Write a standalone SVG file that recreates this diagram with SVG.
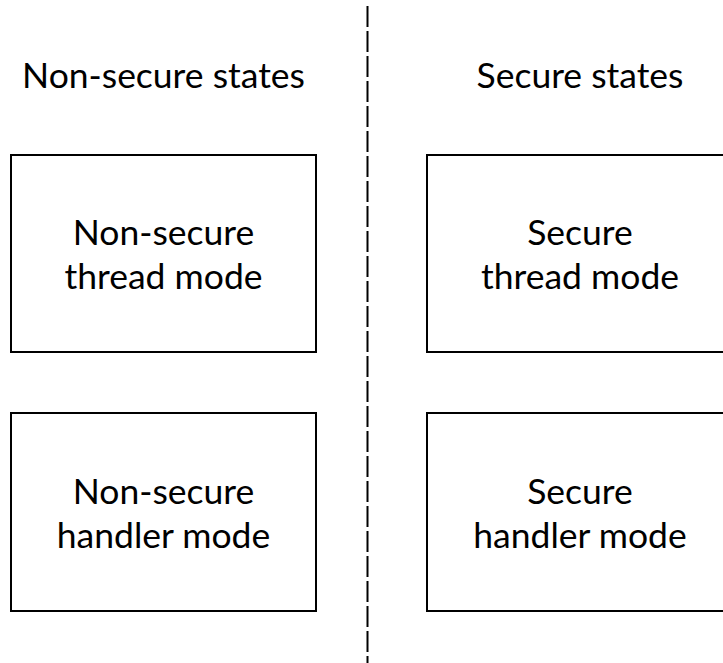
<svg xmlns="http://www.w3.org/2000/svg" width="723" height="663" viewBox="0 0 723 663">
<style>
.box{fill:#fff;stroke:#000;stroke-width:2}
.t{font-family:Lato,"Liberation Sans",sans-serif;font-size:35.5px;fill:#000;text-anchor:middle}
.div{stroke:#000;stroke-width:2;stroke-dasharray:21 4;fill:none}
</style>
<rect width="723" height="663" fill="#fff"/>
<g id="divider"><line class="div" x1="367.5" y1="6" x2="367.5" y2="663"/></g>
<g id="hdr-ns"><text class="t" x="163.5" y="88">Non-secure states</text></g>
<g id="hdr-s"><text class="t" x="580" y="88">Secure states</text></g>
<g id="ns-thread"><rect class="box" x="11" y="155" width="305" height="197"/><text class="t" x="163.5" y="245">Non-secure</text><text class="t" x="163.5" y="289">thread mode</text></g>
<g id="s-thread"><rect class="box" x="427" y="155" width="305" height="197"/><text class="t" x="580" y="245">Secure</text><text class="t" x="580" y="289">thread mode</text></g>
<g id="ns-handler"><rect class="box" x="11" y="413" width="305" height="198"/><text class="t" x="163.5" y="504">Non-secure</text><text class="t" x="163.5" y="548">handler mode</text></g>
<g id="s-handler"><rect class="box" x="427" y="413" width="305" height="198"/><text class="t" x="580" y="504">Secure</text><text class="t" x="580" y="548">handler mode</text></g>
</svg>
